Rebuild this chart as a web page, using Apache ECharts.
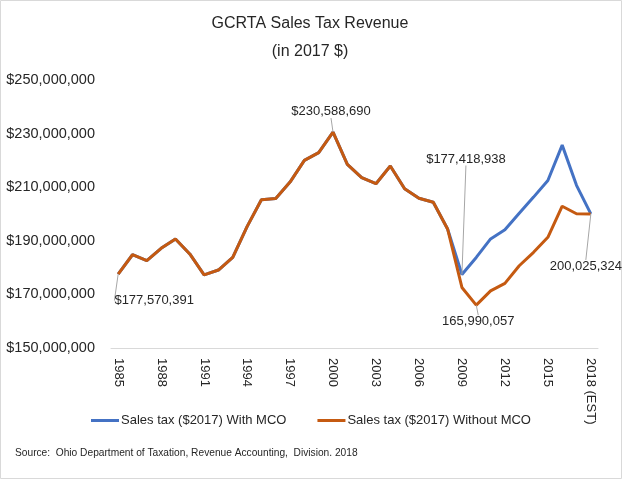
<!DOCTYPE html>
<html>
<head>
<meta charset="utf-8">
<script src="https://cdn.jsdelivr.net/npm/echarts@6/dist/echarts.min.js"></script>
<style>
html,body{margin:0;padding:0;background:#fff;}
#chart{width:624px;height:480px;}
</style>
</head>
<body>
<div id="chart"></div>
<script>
var years = ['1985','1986','1987','1988','1989','1990','1991','1992','1993','1994','1995','1996','1997','1998','1999','2000','2001','2002','2003','2004','2005','2006','2007','2008','2009','2010','2011','2012','2013','2014','2015','2016','2017','2018 (EST)'];

var withMCO = [177570391,184800000,182600000,187200000,190700000,185100000,177300000,179100000,183800000,195300000,205300000,205800000,211900000,220000000,222900000,230588690,218500000,213600000,211300000,217900000,209400000,205900000,204400000,194400000,177418938,183800000,190700000,194100000,200300000,206300000,212500000,225700000,210700000,200025324];

var withoutMCO = [177570391,184800000,182600000,187200000,190700000,185100000,177300000,179100000,183800000,195300000,205300000,205800000,211900000,220000000,222900000,230588690,218500000,213600000,211300000,217900000,209400000,205900000,204400000,194400000,172600000,165990057,171300000,174100000,180700000,185700000,191300000,202900000,200100000,200025324];

var yTicks = [150000000,170000000,190000000,210000000,230000000,250000000];

var seriesNames = ['Sales tax ($2017) With MCO','Sales tax ($2017) Without MCO'];

function fmt(v, dollar){
  var s = Math.round(v).toString().replace(/\B(?=(\d{3})+(?!\d))/g, ',');
  return (dollar ? '$' : '') + s;
}

var FONT = 'Liberation Sans';

// labelled points: [seriesIndex, dataIndex, position, dollar, dx, dy]
var annot = [
  [1, 0, 'bottom', true, 36, 15],
  [1, 15, 'top', true, -2, -9],
  [0, 24, 'top', true, 4, -104],
  [1, 25, 'bottom', false, 2, 5],
  [1, 33, 'bottom', false, -5, 41]
];

function findAnnot(si, i){
  for (var k=0;k<annot.length;k++){
    if (annot[k][0]===si && annot[k][1]===i) return annot[k];
  }
  return null;
}

function buildData(si, arr){
  return arr.map(function(v, i){
    var a = findAnnot(si, i);
    if (a){
      return {
        value: v,
        label: {
          show: true,
          position: a[2],
          formatter: fmt(v, a[3]),
          fontFamily: FONT,
          fontSize: 13,
          color: '#262626'
        },
        labelLine: {show: true, lineStyle: {color: '#a6a6a6', width: 1}}
      };
    }
    return v;
  });
}

function layoutFor(si){
  return function(p){
    var a = findAnnot(si, p.dataIndex);
    return a ? {dx: a[4], dy: a[5]} : {};
  };
}

var chart = echarts.init(document.getElementById('chart'));
chart.setOption({
  animation: false,
  title: {
    text: 'GCRTA Sales Tax Revenue\n(in 2017 $)',
    left: 305,
    top: 5,
    textAlign: 'center',
    textStyle: {fontFamily: FONT, fontSize: 16, fontWeight: 'normal', color: '#262626', lineHeight: 28}
  },
  grid: {left: 111, right: 26, top: 80, bottom: 132, containLabel: false},
  legend: {
    data: seriesNames,
    bottom: 48,
    left: 86,
    itemGap: 31,
    itemWidth: 28,
    icon: 'rect',
    itemHeight: 3,
    textStyle: {fontFamily: FONT, fontSize: 13, color: '#262626', padding: [0, 0, 0, -3]}
  },
  xAxis: {
    type: 'category',
    data: years,
    boundaryGap: true,
    axisLine: {lineStyle: {color: '#d9d9d9', width: 1}},
    axisTick: {show: false},
    axisLabel: {
      interval: 2,
      rotate: -90,
      margin: 10,
      fontFamily: FONT,
      fontSize: 13,
      color: '#262626'
    },
    splitLine: {show: false}
  },
  yAxis: {
    type: 'value',
    min: yTicks[0],
    max: yTicks[yTicks.length-1],
    interval: yTicks[1]-yTicks[0],
    axisLine: {show: false},
    axisTick: {show: false},
    splitLine: {show: false},
    axisLabel: {
      formatter: function(v){ return fmt(v, true); },
      fontFamily: FONT,
      fontSize: 14.5,
      color: '#262626',
      margin: 16
    }
  },
  series: [
    {
      name: seriesNames[0],
      type: 'line',
      data: buildData(0, withMCO),
      symbol: 'circle',
      symbolSize: 0.01,
      showSymbol: true,
      lineStyle: {color: '#4472C4', width: 3},
      itemStyle: {color: '#4472C4'},
      labelLayout: layoutFor(0),
      z: 2
    },
    {
      name: seriesNames[1],
      type: 'line',
      data: buildData(1, withoutMCO),
      symbol: 'circle',
      symbolSize: 0.01,
      showSymbol: true,
      lineStyle: {color: '#C55A11', width: 3},
      itemStyle: {color: '#C55A11'},
      labelLayout: layoutFor(1),
      z: 3
    }
  ],
  graphic: [
    {type: 'rect', shape: {x: 0.5, y: 0.5, width: 621, height: 478}, style: {fill: null, stroke: '#d9d9d9', lineWidth: 1}, silent: true},
    {type: 'text', left: 15, top: 448, style: {text: 'Source:  Ohio Department of Taxation, Revenue Accounting,  Division. 2018', font: '10.2px Liberation Sans', fill: '#262626'}}
  ]
});
</script>
</body>
</html>
